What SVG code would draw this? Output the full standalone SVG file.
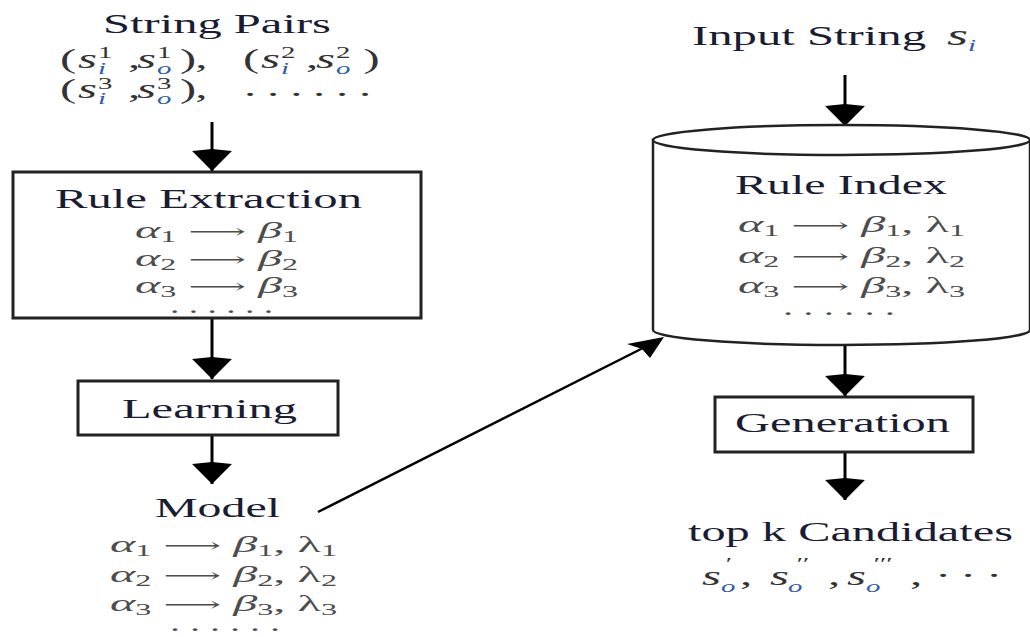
<svg xmlns="http://www.w3.org/2000/svg" width="1030" height="637" viewBox="0 0 1030 637">
<style>
  .hd { font-family: "Liberation Serif", "Times New Roman", serif; font-size: 27px; fill: #1a1c33; }
  .mt { font-family: "Liberation Serif", "DejaVu Serif", "Times New Roman", serif; font-size: 24px; fill: #4d4d4d; }
  .ar { font-family: "DejaVu Serif", serif; font-size: 20px; }
  .it { font-style: italic; }
  .sb { font-size: 16px; }
  .pm { font-family: "Liberation Serif", "Times New Roman", serif; font-size: 27px; fill: #333; }
  .sc { font-size: 16px; }
  .bl { fill: #2b5cad; font-style: italic; }
  .box { fill: #fff; stroke: #222; stroke-width: 3; }
  .cyl { fill: #fff; stroke: #222; stroke-width: 2.5; }
  .edge { fill: none; stroke: #000; stroke-width: 3; }
  .diag { fill: none; stroke: #000; stroke-width: 2.5; }
</style>
<defs>
  <marker id="head" markerUnits="userSpaceOnUse" markerWidth="30" markerHeight="44" viewBox="-22 -21 24 42" refX="0" refY="0" orient="auto">
    <path d="M0,0 L-19,-19 L-21,0 L-19,19 Z" fill="#000"/>
  </marker>
</defs>

<g id="connectors">
  <line class="edge" x1="212" y1="122" x2="212" y2="171" marker-end="url(#head)"/>
  <line class="edge" x1="212" y1="318" x2="212" y2="379" marker-end="url(#head)"/>
  <line class="edge" x1="212" y1="435" x2="212" y2="484" marker-end="url(#head)"/>
  <line class="edge" x1="845" y1="75" x2="845" y2="126" marker-end="url(#head)"/>
  <line class="edge" x1="845" y1="345" x2="845" y2="396" marker-end="url(#head)"/>
  <line class="edge" x1="845" y1="452" x2="845" y2="500" marker-end="url(#head)"/>
  <line class="diag" x1="318" y1="512" x2="645" y2="347"/>
  <polygon points="664,337 627,344 642,349 650,358" fill="#000"/>
</g>

<g id="string-pairs">
  <text class="hd" x="103" y="33" textLength="228" lengthAdjust="spacingAndGlyphs">String Pairs</text>
  <text class="pm" transform="scale(1.8 1)">
    <tspan x="33.33" y="68">(</tspan>
    <tspan class="it" x="43.33" y="68">s</tspan>
    <tspan class="sc" x="54.4" y="58">1</tspan>
    <tspan class="sc bl" x="54.4" y="74">i</tspan>
    <tspan x="71.11" y="68">,</tspan>
    <tspan class="it" x="76.11" y="68">s</tspan>
    <tspan class="sc" x="87.2" y="58">1</tspan>
    <tspan class="sc bl" x="87.2" y="74">o</tspan>
    <tspan x="100" y="68">)</tspan>
    <tspan x="108.5" y="68">,</tspan>
    <tspan x="135" y="68">(</tspan>
    <tspan class="it" x="145" y="68">s</tspan>
    <tspan class="sc" x="156.1" y="58">2</tspan>
    <tspan class="sc bl" x="156.1" y="74">i</tspan>
    <tspan x="170" y="68">,</tspan>
    <tspan class="it" x="175.56" y="68">s</tspan>
    <tspan class="sc" x="186.7" y="58">2</tspan>
    <tspan class="sc bl" x="186.7" y="74">o</tspan>
    <tspan x="202" y="68">)</tspan>
  </text>
  <text class="pm" transform="scale(1.8 1)">
    <tspan x="33.33" y="98">(</tspan>
    <tspan class="it" x="43.33" y="98">s</tspan>
    <tspan class="sc" x="54.4" y="89">3</tspan>
    <tspan class="sc bl" x="54.4" y="104">i</tspan>
    <tspan x="71.11" y="98">,</tspan>
    <tspan class="it" x="76.11" y="98">s</tspan>
    <tspan class="sc" x="87.2" y="89">3</tspan>
    <tspan class="sc bl" x="87.2" y="104">o</tspan>
    <tspan x="100" y="98">)</tspan>
    <tspan x="108.5" y="98">,</tspan>
    <tspan x="135.6 148.4 161.2 173.9 186.7 199.4" y="96">......</tspan>
  </text>
</g>

<g id="rule-extraction">
  <rect class="box" x="13" y="172" width="408" height="146"/>
  <text class="hd" x="55" y="208" textLength="307" lengthAdjust="spacingAndGlyphs">Rule Extraction</text>
  <text class="mt" x="135" y="238" textLength="163" lengthAdjust="spacingAndGlyphs"><tspan class="it">α</tspan><tspan class="sb" dy="4">1</tspan><tspan dy="-4"> </tspan><tspan class="ar">⟶</tspan><tspan> </tspan><tspan class="it">β</tspan><tspan class="sb" dy="4">1</tspan></text>
  <text class="mt" x="135" y="266" textLength="163" lengthAdjust="spacingAndGlyphs"><tspan class="it">α</tspan><tspan class="sb" dy="4">2</tspan><tspan dy="-4"> </tspan><tspan class="ar">⟶</tspan><tspan> </tspan><tspan class="it">β</tspan><tspan class="sb" dy="4">2</tspan></text>
  <text class="mt" x="135" y="293" textLength="163" lengthAdjust="spacingAndGlyphs"><tspan class="it">α</tspan><tspan class="sb" dy="4">3</tspan><tspan dy="-4"> </tspan><tspan class="ar">⟶</tspan><tspan> </tspan><tspan class="it">β</tspan><tspan class="sb" dy="4">3</tspan></text>
  <text class="mt" x="170" y="313" textLength="103" lengthAdjust="spacingAndGlyphs">. . . . . .</text>
</g>

<g id="learning">
  <rect class="box" x="78" y="381" width="260" height="54"/>
  <text class="hd" x="122" y="418" textLength="175" lengthAdjust="spacingAndGlyphs">Learning</text>
</g>

<g id="model">
  <text class="hd" x="155" y="517" textLength="125" lengthAdjust="spacingAndGlyphs">Model</text>
  <text class="mt" x="110" y="552" textLength="227" lengthAdjust="spacingAndGlyphs"><tspan class="it">α</tspan><tspan class="sb" dy="4">1</tspan><tspan dy="-4"> </tspan><tspan class="ar">⟶</tspan><tspan> </tspan><tspan class="it">β</tspan><tspan class="sb" dy="4">1</tspan><tspan dy="-4">, λ</tspan><tspan class="sb" dy="4">1</tspan></text>
  <text class="mt" x="110" y="582" textLength="227" lengthAdjust="spacingAndGlyphs"><tspan class="it">α</tspan><tspan class="sb" dy="4">2</tspan><tspan dy="-4"> </tspan><tspan class="ar">⟶</tspan><tspan> </tspan><tspan class="it">β</tspan><tspan class="sb" dy="4">2</tspan><tspan dy="-4">, λ</tspan><tspan class="sb" dy="4">2</tspan></text>
  <text class="mt" x="110" y="611" textLength="227" lengthAdjust="spacingAndGlyphs"><tspan class="it">α</tspan><tspan class="sb" dy="4">3</tspan><tspan dy="-4"> </tspan><tspan class="ar">⟶</tspan><tspan> </tspan><tspan class="it">β</tspan><tspan class="sb" dy="4">3</tspan><tspan dy="-4">, λ</tspan><tspan class="sb" dy="4">3</tspan></text>
  <text class="mt" x="170" y="631" textLength="110" lengthAdjust="spacingAndGlyphs">. . . . . .</text>
</g>

<g id="input-string">
  <text class="hd" x="692" y="45" textLength="234" lengthAdjust="spacingAndGlyphs">Input String</text>
  <text class="pm" transform="scale(1.8 1)">
    <tspan class="it" x="526.1" y="45" font-size="30">s</tspan>
    <tspan class="sc bl" x="537.8" y="51">i</tspan>
  </text>
</g>

<g id="rule-index">
  <path class="cyl" d="M653,140 L653,330 A188.5,15 0 0 0 1030,330 L1030,140 Z"/>
  <ellipse class="cyl" cx="841.5" cy="140" rx="188.5" ry="15"/>
  <text class="hd" x="735" y="194" textLength="212" lengthAdjust="spacingAndGlyphs">Rule Index</text>
  <text class="mt" x="738" y="232" textLength="227" lengthAdjust="spacingAndGlyphs"><tspan class="it">α</tspan><tspan class="sb" dy="4">1</tspan><tspan dy="-4"> </tspan><tspan class="ar">⟶</tspan><tspan> </tspan><tspan class="it">β</tspan><tspan class="sb" dy="4">1</tspan><tspan dy="-4">, λ</tspan><tspan class="sb" dy="4">1</tspan></text>
  <text class="mt" x="738" y="263" textLength="227" lengthAdjust="spacingAndGlyphs"><tspan class="it">α</tspan><tspan class="sb" dy="4">2</tspan><tspan dy="-4"> </tspan><tspan class="ar">⟶</tspan><tspan> </tspan><tspan class="it">β</tspan><tspan class="sb" dy="4">2</tspan><tspan dy="-4">, λ</tspan><tspan class="sb" dy="4">2</tspan></text>
  <text class="mt" x="738" y="293" textLength="227" lengthAdjust="spacingAndGlyphs"><tspan class="it">α</tspan><tspan class="sb" dy="4">3</tspan><tspan dy="-4"> </tspan><tspan class="ar">⟶</tspan><tspan> </tspan><tspan class="it">β</tspan><tspan class="sb" dy="4">3</tspan><tspan dy="-4">, λ</tspan><tspan class="sb" dy="4">3</tspan></text>
  <text class="mt" x="783" y="315" textLength="112" lengthAdjust="spacingAndGlyphs">. . . . . .</text>
</g>

<g id="generation">
  <rect class="box" x="715" y="397" width="258" height="55"/>
  <text class="hd" x="735" y="432" textLength="215" lengthAdjust="spacingAndGlyphs">Generation</text>
</g>

<g id="candidates">
  <text class="hd" x="688" y="541" textLength="325" lengthAdjust="spacingAndGlyphs">top k Candidates</text>
  <text class="pm" transform="scale(1.8 1)">
    <tspan class="it" x="390" y="585">s</tspan>
    <tspan class="sc bl" x="400.6" y="592">o</tspan>
    <tspan class="sc it" x="402.2" y="569">′</tspan>
    <tspan x="411.1" y="585">,</tspan>
    <tspan class="it" x="427.8" y="585">s</tspan>
    <tspan class="sc bl" x="437.8" y="592">o</tspan>
    <tspan class="sc it" x="441.7" y="569">′′</tspan>
    <tspan x="460" y="585">,</tspan>
    <tspan class="it" x="470.6" y="585">s</tspan>
    <tspan class="sc bl" x="481.1" y="592">o</tspan>
    <tspan class="sc it" x="484.4" y="569">′′′</tspan>
    <tspan x="505.6" y="585">,</tspan>
    <tspan x="519.4 533.3 547.8" y="585">···</tspan>
  </text>
</g>
</svg>
